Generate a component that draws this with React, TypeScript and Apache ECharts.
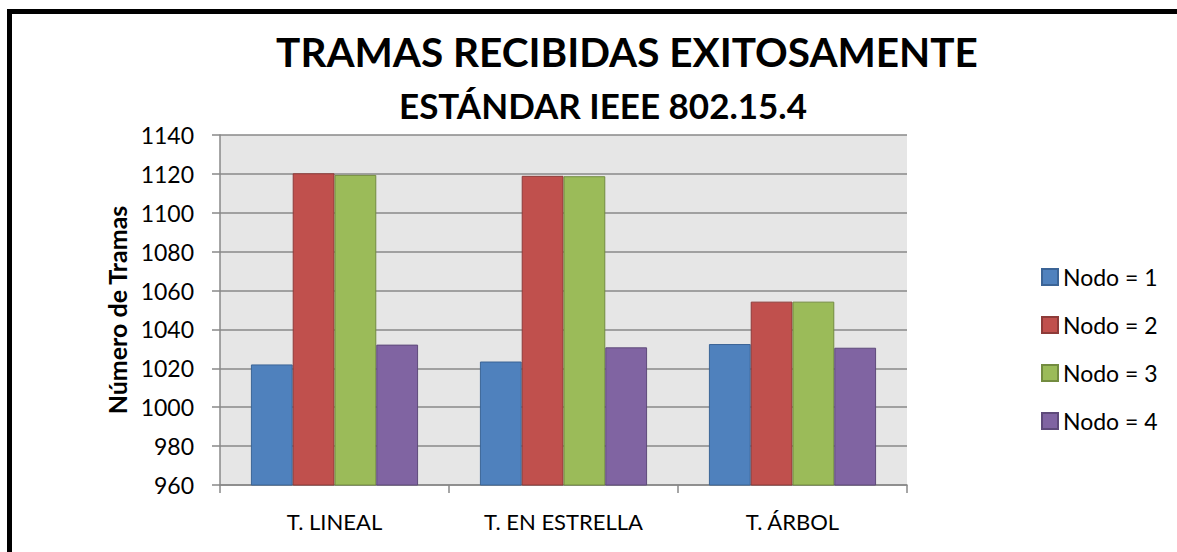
import React, { useEffect, useRef } from "react";
import * as echarts from "echarts";

const categories = ["T. LINEAL", "T. EN ESTRELLA", "T. ÁRBOL"];
const seriesNames = ["Nodo = 1", "Nodo = 2", "Nodo = 3", "Nodo = 4"];
const nodo1 = [1022, 1023.5, 1032.5];
const nodo2 = [1120.3, 1119, 1054.3];
const nodo3 = [1119.5, 1118.8, 1054.3];
const nodo4 = [1032.2, 1030.8, 1030.6];
const seriesValues = [nodo1, nodo2, nodo3, nodo4];
const fills = ["#4F81BD", "#C0504D", "#9BBB59", "#8064A2"];
const borders = ["#3B6496", "#8E3B39", "#738C40", "#5E4A7A"];
const titleText = "TRAMAS RECIBIDAS EXITOSAMENTE";
const subtitleText = "ESTÁNDAR IEEE 802.15.4";
const yAxisTitle = "Número de Tramas";

const FONT = "Lato, 'Open Sans', sans-serif";

export default function App() {
  const ref = useRef<HTMLDivElement>(null);
  useEffect(() => {
    const chart = echarts.init(ref.current!, null, { renderer: "svg" });
    chart.setOption({
      animation: false,
      backgroundColor: "#ffffff",
      textStyle: { fontFamily: FONT },
      grid: { left: 220, top: 135, right: 270, bottom: 67, show: true, backgroundColor: "#E6E6E6", borderWidth: 0 },
      legend: {
        orient: "vertical",
        left: 1036,
        top: 260,
        itemWidth: 16,
        itemHeight: 16,
        itemGap: 24,
        icon: "rect",
        textStyle: { fontSize: 23, color: "#000", fontFamily: FONT, lineHeight: 24 },
        data: seriesNames,
      },
      xAxis: {
        type: "category",
        data: categories,
        axisLine: { lineStyle: { color: "#888888", width: 1.5 } },
        axisTick: { show: true, length: 8, lineStyle: { color: "#888888", width: 1.5 } },
        axisLabel: { fontSize: 22, color: "#000", margin: 25, fontFamily: FONT },
      },
      yAxis: {
        type: "value",
        min: 960,
        max: 1140,
        interval: 20,
        name: yAxisTitle,
        nameLocation: "middle",
        nameGap: 90,
        nameRotate: 90,
        nameTextStyle: { fontSize: 25, fontWeight: "bold", color: "#000", fontFamily: FONT },
        axisLine: { show: true, lineStyle: { color: "#888888", width: 1.5 } },
        axisTick: { show: true, length: 8, lineStyle: { color: "#888888", width: 1.5 } },
        axisLabel: { fontSize: 23, color: "#000", margin: 26, fontFamily: FONT, formatter: (v: number) => String(v) },
        splitLine: { lineStyle: { color: "#888888", width: 1.5 } },
      },
      series: seriesValues.map((vals, i) => ({
        name: seriesNames[i],
        type: "bar",
        data: vals,
        barGap: "0%",
        barCategoryGap: "27%",
        itemStyle: { color: fills[i], borderColor: borders[i], borderWidth: 1 },
      })),
      graphic: [
        { type: "rect", shape: { x: 7, y: 9, width: 1170, height: 5 }, style: { fill: "#000" } },
        { type: "rect", shape: { x: 7, y: 9, width: 5, height: 543 }, style: { fill: "#000" } },
        {
          type: "text",
          x: 627,
          y: 51,
          style: { text: titleText, fontSize: 40.5, fontWeight: "bold", fill: "#000", fontFamily: FONT, align: "center", verticalAlign: "middle" },
        },
        {
          type: "text",
          x: 603,
          y: 105,
          style: { text: subtitleText, fontSize: 35, fontWeight: "bold", fill: "#000", fontFamily: FONT, align: "center", verticalAlign: "middle" },
        },
      ],
    });
    return () => chart.dispose();
  }, []);
  return <div ref={ref} style={{ position: "absolute", left: 0, top: 0, width: 1177, height: 552 }} />;
}
